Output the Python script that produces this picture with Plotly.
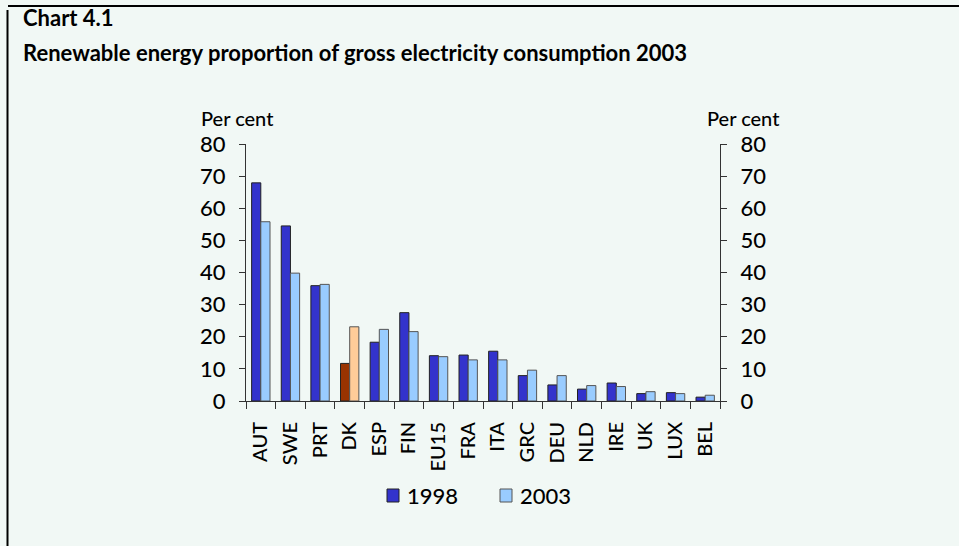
import plotly.graph_objects as go

countries = ["AUT", "SWE", "PRT", "DK", "ESP", "FIN", "EU15", "FRA",
             "ITA", "GRC", "DEU", "NLD", "IRE", "UK", "LUX", "BEL"]
share_1998 = [67.9, 54.5, 35.9, 11.7, 18.3, 27.5, 14.1, 14.3,
              15.5, 7.9, 5.0, 3.7, 5.6, 2.3, 2.6, 1.2]
share_2003 = [55.8, 39.8, 36.3, 23.1, 22.3, 21.6, 13.8, 12.8,
              12.8, 9.6, 7.9, 4.8, 4.5, 2.9, 2.3, 1.8]
y_ticks = [0, 10, 20, 30, 40, 50, 60, 70, 80]
series_names = ["1998", "2003"]

highlight = "DK"
c98, c03 = "#3333cc", "#99ccff"
h98, h03 = "#993300", "#ffcc99"
colors_98 = [h98 if c == highlight else c98 for c in countries]
colors_03 = [h03 if c == highlight else c03 for c in countries]

BG = "#f1f8f5"
FONT = "Lato, 'Open Sans', sans-serif"
AX = "#333333"
TXT = "#000000"

# plot area in pixels
L, R, T, B = 246, 720, 144, 401
W, H = 959, 546
pw, ph = R - L, B - T


def px(x):
    return (x - L) / pw


def py(y):
    return (B - y) / ph


fig = go.Figure()
fig.add_trace(go.Bar(x=countries, y=share_1998, name=series_names[0],
                     marker=dict(color=colors_98, line=dict(color="#222222", width=1))))
fig.add_trace(go.Bar(x=countries, y=share_2003, name=series_names[1],
                     marker=dict(color=colors_03, line=dict(color="#555555", width=1))))
# invisible trace so the right-hand axis is drawn
fig.add_trace(go.Scatter(x=countries, y=share_2003, yaxis="y2", mode="markers",
                         marker=dict(opacity=0, size=1), showlegend=False, hoverinfo="skip"))

yax = dict(range=[0, 80], tickvals=y_ticks, ticks="outside", ticklen=6,
           tickcolor=AX, showline=True, linecolor=AX, linewidth=1,
           showgrid=False, zeroline=False, ticklabelstandoff=9,
           tickfont=dict(family=FONT, size=22, color=TXT, weight=500))

fig.update_layout(
    width=W, height=H,
    margin=dict(l=L, r=W - R, t=T, b=H - B),
    paper_bgcolor=BG, plot_bgcolor=BG,
    barmode="group", bargap=0.38, bargroupgap=0,
    font=dict(family=FONT, color=TXT),
    xaxis=dict(type="category", range=[-0.5, len(countries) - 0.5],
               tickangle=-90, ticks="outside", ticklen=7,
               tickson="boundaries", tickcolor=AX, showline=True,
               linecolor=AX, linewidth=1, showgrid=False, ticklabelstandoff=12,
               tickfont=dict(family=FONT, size=20, color=TXT, weight=500)),
    yaxis=dict(**yax, side="left"),
    yaxis2=dict(**yax, side="right", overlaying="y", anchor="x"),
    showlegend=False,
)

annots = [
    dict(text="<b>Chart 4.1</b>", x=px(21), y=py(18), size=22, weight=700),
    dict(text="<b>Renewable energy proportion of gross electricity consumption 2003</b>",
         x=px(21), y=py(53), size=22, weight=700),
    dict(text="Per cent", x=px(199), y=py(118), size=20, weight=500),
    dict(text="Per cent", x=px(705), y=py(118), size=20, weight=500),
]
for a in annots:
    fig.add_annotation(text=a["text"], xref="paper", yref="paper", x=a["x"], y=a["y"],
                       xanchor="left", yanchor="middle", showarrow=False,
                       font=dict(family=FONT, size=a["size"], color=TXT, weight=a["weight"]))

# legend: boxed keys followed by the series year
legend_keys = [(series_names[0], c98, "#222222", 387), (series_names[1], c03, "#555555", 500)]
for name, fill, edge, x0 in legend_keys:
    fig.add_shape(type="rect", xref="paper", yref="paper",
                  x0=px(x0), x1=px(x0 + 12), y0=py(489), y1=py(502),
                  fillcolor=fill, line=dict(color=edge, width=1))
    fig.add_annotation(text=name, xref="paper", yref="paper", x=px(x0 + 18), y=py(495),
                       xanchor="left", yanchor="middle", showarrow=False,
                       font=dict(family=FONT, size=22, color=TXT, weight=500))

# frame lines of the panel
fig.add_shape(type="line", xref="paper", yref="paper", x0=px(8), x1=px(959),
              y0=py(6), y1=py(6), line=dict(color="#000000", width=2))
fig.add_shape(type="line", xref="paper", yref="paper", x0=px(7.5), x1=px(7.5),
              y0=py(10), y1=py(546), line=dict(color="#000000", width=2))

fig.write_html("out.html")
